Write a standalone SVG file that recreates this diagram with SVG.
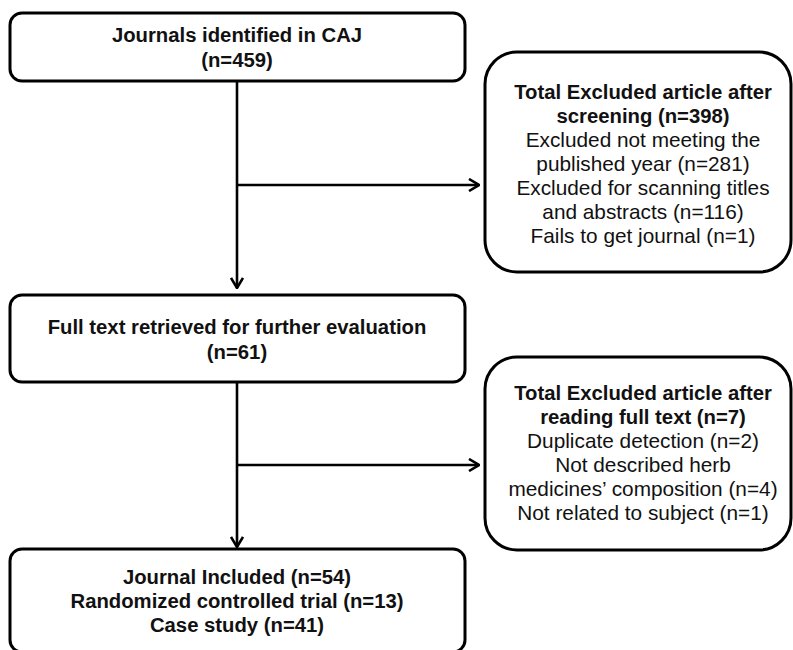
<svg xmlns="http://www.w3.org/2000/svg" width="793" height="650" viewBox="0 0 793 650">
<defs>
<marker id="arr" viewBox="0 0 12 14" refX="11" refY="7" markerWidth="12" markerHeight="14" markerUnits="userSpaceOnUse" orient="auto">
<path d="M1,1 L11,7 L1,13" fill="none" stroke="#000" stroke-width="2.6"/>
</marker>
</defs>
<style>
.box{fill:#fff;stroke:#000;stroke-width:3}
.t{font-family:"Liberation Sans",Arial,sans-serif;font-size:20.8px;fill:#111;text-anchor:middle}
.b{font-weight:bold;font-size:20.3px}
.ln{fill:none;stroke:#000;stroke-width:2.6}
</style>
<rect width="793" height="650" fill="#fff"/>
<g id="connectors">
<path class="ln" d="M237 82 V288" marker-end="url(#arr)"/>
<path class="ln" d="M237 185 H479" marker-end="url(#arr)"/>
<path class="ln" d="M237 382 V547" marker-end="url(#arr)"/>
<path class="ln" d="M237 465 H479" marker-end="url(#arr)"/>
</g>
<g id="n1">
<rect class="box" x="10" y="13" width="455" height="68" rx="12"/>
<text class="t b" x="237" y="42">Journals identified in CAJ</text>
<text class="t b" x="237" y="67">(n=459)</text>
</g>
<g id="n2">
<rect class="box" x="485" y="52" width="306" height="220" rx="32"/>
<text class="t b" x="643" y="99">Total Excluded article after</text>
<text class="t b" x="643" y="123">screening (n=398)</text>
<text class="t" x="643" y="147">Excluded not meeting the</text>
<text class="t" x="643" y="171">published year (n=281)</text>
<text class="t" x="643" y="195">Excluded for scanning titles</text>
<text class="t" x="643" y="219">and abstracts (n=116)</text>
<text class="t" x="643" y="243">Fails to get journal (n=1)</text>
</g>
<g id="n3">
<rect class="box" x="10" y="295" width="455" height="87" rx="12"/>
<text class="t b" x="237" y="334">Full text retrieved for further evaluation</text>
<text class="t b" x="237" y="359">(n=61)</text>
</g>
<g id="n4">
<rect class="box" x="485" y="357" width="306" height="193" rx="32"/>
<text class="t b" x="643" y="400">Total Excluded article after</text>
<text class="t b" x="643" y="424">reading full text (n=7)</text>
<text class="t" x="643" y="448">Duplicate detection (n=2)</text>
<text class="t" x="643" y="472">Not described herb</text>
<text class="t" x="643" y="496">medicines’ composition (n=4)</text>
<text class="t" x="643" y="520">Not related to subject (n=1)</text>
</g>
<g id="n5">
<rect class="box" x="10" y="549" width="455" height="103" rx="12"/>
<text class="t b" x="237" y="584">Journal Included (n=54)</text>
<text class="t b" x="237" y="608">Randomized controlled trial (n=13)</text>
<text class="t b" x="237" y="632">Case study (n=41)</text>
</g>
</svg>
